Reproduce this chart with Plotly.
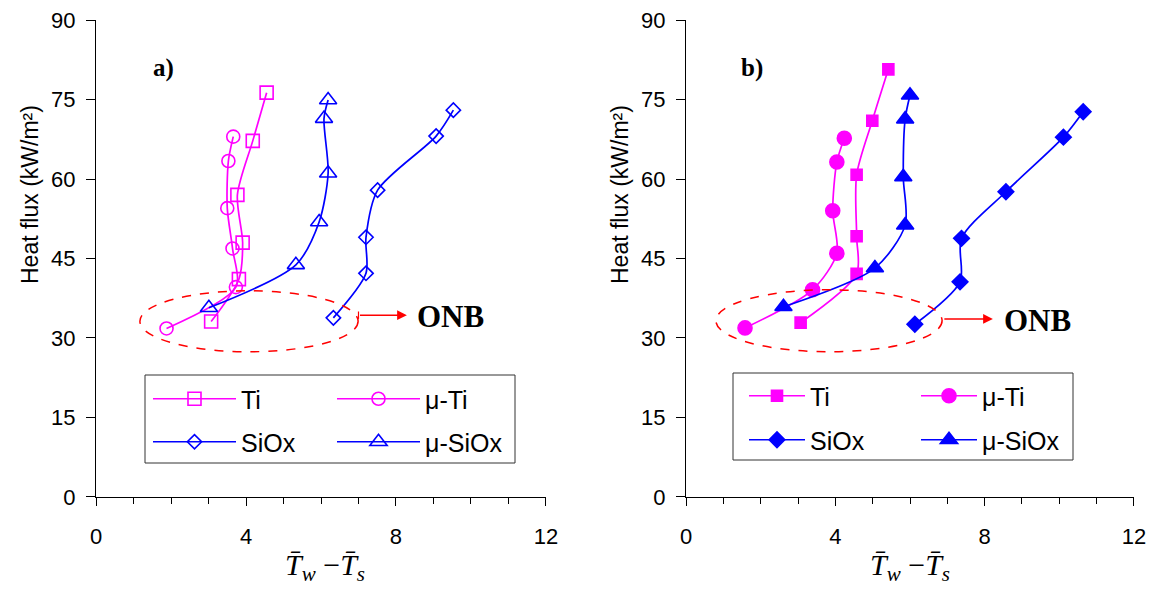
import plotly.graph_objects as go

# ---------------- data ----------------
# panel a (open markers)
ti_a_x = [3.07, 3.81, 3.91, 3.77, 4.18, 4.55]
ti_a_y = [33.1, 41.1, 48.0, 57.0, 67.2, 76.3]
muti_a_x = [1.88, 3.73, 3.64, 3.50, 3.53, 3.66]
muti_a_y = [31.8, 39.6, 46.9, 54.5, 63.4, 68.0]
siox_a_x = [6.33, 7.20, 7.20, 7.51, 9.07, 9.53]
siox_a_y = [33.8, 42.2, 49.0, 57.9, 68.1, 73.0]
musiox_a_x = [3.01, 5.33, 5.95, 6.19, 6.08, 6.19]
musiox_a_y = [35.7, 43.8, 51.9, 61.1, 71.4, 74.9]

# panel b (filled markers)
ti_b_x = [3.07, 4.57, 4.57, 4.57, 4.99, 5.42]
ti_b_y = [32.9, 42.1, 49.2, 60.8, 71.0, 80.7]
muti_b_x = [1.58, 3.39, 4.04, 3.93, 4.04, 4.24]
muti_b_y = [31.9, 39.1, 46.0, 54.0, 63.2, 67.7]
siox_b_x = [6.13, 7.34, 7.38, 8.57, 10.11, 10.64]
siox_b_y = [32.6, 40.6, 48.8, 57.6, 67.9, 72.7]
musiox_b_x = [2.61, 5.06, 5.87, 5.82, 5.87, 6.00]
musiox_b_y = [35.9, 43.2, 51.3, 60.4, 71.3, 75.8]

names = ["Ti", "μ-Ti", "SiOx", "μ-SiOx"]
y_ticks = [0, 15, 30, 45, 60, 75, 90]
x_ticks = [0, 4, 8, 12]

MAG = "#FF00FF"
BLU = "#0000FF"
# the page body adds an 8 px margin, so the figure is sized to fill the rest
OFF = 8
W, H = 1155 - OFF, 593 - OFF
SANS = "Liberation Sans, Arial, sans-serif"
SERIF = "Liberation Serif, Times New Roman, serif"

fig = go.Figure()

def add(x, y, name, color, symbol, size, xa, ya, legend):
    fig.add_trace(go.Scatter(
        x=x, y=y, name=name, mode="lines+markers",
        line=dict(color=color, width=1.7, shape="spline", smoothing=0.8),
        marker=dict(symbol=symbol, size=size, color=color,
                    line=dict(color=color, width=1.6)),
        xaxis=xa, yaxis=ya, legend=legend))

add(ti_a_x, ti_a_y, names[0], MAG, "square-open", 13, "x", "y", "legend")
add(muti_a_x, muti_a_y, names[1], MAG, "circle-open", 13, "x", "y", "legend")
add(siox_a_x, siox_a_y, names[2], BLU, "diamond-open", 11, "x", "y", "legend2")
add(musiox_a_x, musiox_a_y, names[3], BLU, "triangle-up-open", 15, "x", "y", "legend2")

add(ti_b_x, ti_b_y, names[0], MAG, "square", 11, "x2", "y2", "legend3")
add(muti_b_x, muti_b_y, names[1], MAG, "circle", 14, "x2", "y2", "legend3")
add(siox_b_x, siox_b_y, names[2], BLU, "diamond", 12, "x2", "y2", "legend4")
add(musiox_b_x, musiox_b_y, names[3], BLU, "triangle-up", 15, "x2", "y2", "legend4")

def px(xp):
    return (xp - OFF) / W

def py(yp):
    return 1 - (yp - OFF) / H

xcommon = dict(range=[-0.001, 12.001], tickvals=x_ticks, ticks="outside", ticklen=8,
               tickcolor="black", showline=True, linecolor="black", linewidth=1,
               showgrid=False, zeroline=False, ticklabelstandoff=12, automargin=False,
               ticklabeloverflow="allow",
               tickfont=dict(family=SANS, size=22, color="black"),
               minor=dict(dtick=1, ticks="outside", ticklen=6, tickcolor="black"),
               fixedrange=True)
ycommon = dict(range=[-0.01, 90.01], tickvals=y_ticks, ticks="outside", ticklen=9,
               tickcolor="black", showline=True, linecolor="black", linewidth=1,
               showgrid=False, zeroline=False, ticklabelstandoff=6, automargin=False,
               ticklabeloverflow="allow",
               domain=[py(497), py(20)],
               tickfont=dict(family=SANS, size=22, color="black"),
               fixedrange=True)

leg_a = dict(orientation="h", bgcolor="rgba(0,0,0,0)", borderwidth=0,
             font=dict(family=SANS, size=25, color="black"),
             itemwidth=83, entrywidth=86, entrywidthmode="pixels",
             xanchor="left", yanchor="middle", itemclick=False, itemdoubleclick=False)
leg_b = dict(leg_a, itemwidth=56, entrywidth=101)

fig.update_layout(
    width=W, height=H, autosize=False,
    margin=dict(l=0, r=0, t=0, b=0, pad=0, autoexpand=False),
    paper_bgcolor="white", plot_bgcolor="white",
    xaxis=dict(xcommon, domain=[px(96), px(546)], anchor="y"),
    yaxis=dict(ycommon, anchor="x"),
    xaxis2=dict(xcommon, domain=[px(686), px(1134)], anchor="y2"),
    yaxis2=dict(ycommon, anchor="x2"),
    legend=dict(leg_a, x=px(148), y=py(399)),
    legend2=dict(leg_a, x=px(148), y=py(442)),
    legend3=dict(leg_b, x=px(744), y=py(396)),
    legend4=dict(leg_b, x=px(744), y=py(440)),
)

shapes = []
# legend boxes
for (x0, y0, x1, y1) in [(145, 375, 515, 463), (733, 373, 1073, 460)]:
    shapes.append(dict(type="rect", xref="paper", yref="paper",
                       x0=px(x0), x1=px(x1), y0=py(y1), y1=py(y0),
                       line=dict(color="#333333", width=1), fillcolor="rgba(0,0,0,0)"))
# ONB ellipses
shapes.append(dict(type="circle", xref="x", yref="y", x0=1.17, x1=6.99, y0=27.4, y1=38.9,
                   line=dict(color="red", width=1.5, dash="dash")))
shapes.append(dict(type="circle", xref="x2", yref="y2", x0=0.80, x1=6.86, y0=27.4, y1=39.1,
                   line=dict(color="red", width=1.5, dash="dash")))
# small tail bar of arrow in panel a
shapes.append(dict(type="line", xref="x", yref="y", x0=7.0, x1=7.0, y0=33.6, y1=35.0,
                   line=dict(color="red", width=1.2)))
fig.update_layout(shapes=shapes)

ann = []
# arrows
ann.append(dict(x=8.29, y=34.3, ax=7.0, ay=34.3, xref="x", yref="y", axref="x", ayref="y",
                text="", showarrow=True, arrowhead=2, arrowsize=1.3, arrowwidth=1.5,
                arrowcolor="red"))
ann.append(dict(x=8.22, y=33.6, ax=6.88, ay=33.6, xref="x2", yref="y2", axref="x2", ayref="y2",
                text="", showarrow=True, arrowhead=2, arrowsize=1.3, arrowwidth=1.5,
                arrowcolor="red"))
# ONB labels
ann.append(dict(x=8.5, y=34.1, xref="x", yref="y", text="<b>ONB</b>", showarrow=False,
                xanchor="left", yanchor="middle",
                font=dict(family=SERIF, size=31, color="black")))
ann.append(dict(x=8.46, y=33.3, xref="x2", yref="y2", text="<b>ONB</b>", showarrow=False,
                xanchor="left", yanchor="middle",
                font=dict(family=SERIF, size=31, color="black")))
# panel labels
ann.append(dict(x=px(163), y=py(68), xref="paper", yref="paper", text="<b>a)</b>",
                xanchor="center", yanchor="middle",
                showarrow=False, font=dict(family=SERIF, size=25, color="black")))
ann.append(dict(x=px(752), y=py(68), xref="paper", yref="paper", text="<b>b)</b>",
                xanchor="center", yanchor="middle",
                showarrow=False, font=dict(family=SERIF, size=25, color="black")))
# y titles
for xc in (30, 620):
    ann.append(dict(x=px(xc), y=py(195), xref="paper", yref="paper",
                    xanchor="center", yanchor="middle",
                    text="Heat flux (kW/m²)", textangle=-90, showarrow=False,
                    font=dict(family=SANS, size=23, color="black")))
# x titles
xt = "<i>T\u0304</i><sub><i>w</i></sub> \u2212<i>T\u0304</i><sub><i>s</i></sub>"
for xc in (325, 910):
    ann.append(dict(x=px(xc), y=py(567), xref="paper", yref="paper", text=xt,
                    xanchor="center", yanchor="middle",
                    showarrow=False, font=dict(family=SERIF, size=30, color="black")))
fig.update_layout(annotations=ann)

fig.write_html("out.html")
